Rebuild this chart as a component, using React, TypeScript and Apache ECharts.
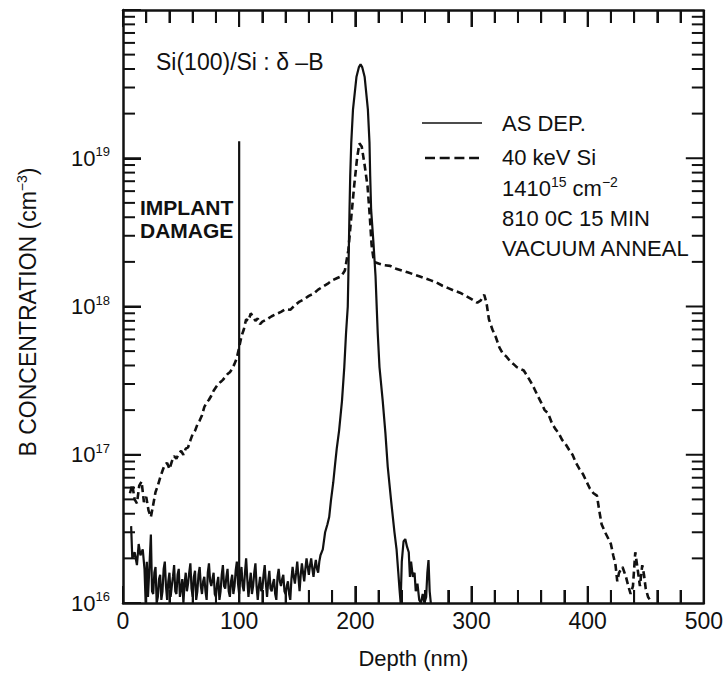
import React, { useEffect, useRef } from "react";
import * as echarts from "echarts";

// ---- data ----
const asDepProfile: [number, number][] = [
  [7, 3.3e16], [8, 2.0e16], [10, 2.2e16], [12, 1.8e16], [13.5, 2.5e16], [15, 2.1e16],
  [17, 2.3e16], [18.5, 1.7e16], [19.5, 1.0e16], [20.5, 1.9e16], [21.5, 1.1e16], [22.5, 1.6e16],
  [24, 2.9e16], [25, 1.2e16], [26, 1.15e16], [27, 1.6e16], [28, 1.75e16], [29, 1.0e16], [30, 1.1e16],
  [31, 1.45e16], [32, 1.55e16], [33, 1.05e16], [34, 1.2e16], [35, 1.7e16], [36, 1.9e16], [37, 1.3e16],
  [38, 1.05e16], [39, 1.4e16], [40, 1.6e16], [41, 1.1e16], [42, 1.3e16], [43, 1.5e16], [44, 1.8e16],
  [45, 1.2e16], [46, 1.15e16], [47, 1.55e16], [48, 1.7e16], [49, 1.1e16], [50, 1.25e16], [51, 1.45e16],
  [52, 1.0e16], [53, 1.35e16], [54, 1.6e16], [55, 1.2e16], [56, 1.35e16], [57, 1.6e16], [58, 1.85e16],
  [59, 1.25e16], [60, 1.1e16], [61, 1.5e16], [62, 1.65e16], [63, 1.05e16], [64, 1.2e16], [65, 1.55e16],
  [66, 1.75e16], [67, 1.3e16], [68, 1.15e16], [69, 1.4e16], [70, 1.5e16], [71, 1.2e16], [72, 1.05e16],
  [73, 1.6e16], [74, 1.85e16], [75, 1.4e16], [76, 1.3e16], [77, 1.45e16], [78, 1.6e16], [79, 1.15e16],
  [80, 1.1e16], [81, 1.35e16], [82, 1.5e16], [83, 1.05e16], [84, 1.2e16], [85, 1.55e16], [86, 1.8e16],
  [87, 1.3e16], [88, 1.25e16], [89, 1.5e16], [90, 1.7e16], [91, 1.2e16], [92, 1.1e16], [93, 1.4e16],
  [94, 1.55e16], [95, 1.15e16], [96, 1.3e16], [97, 1.65e16], [98, 1.9e16], [99, 1.35e16], [100, 1.15e16],
  [101, 1.5e16], [102, 1.75e16], [103, 1.3e16], [104, 1.2e16], [105, 1.6e16], [106, 2.0e16], [107, 1.45e16],
  [108, 1.1e16], [109, 1.35e16], [110, 1.6e16], [111, 1.15e16], [112, 1.3e16], [113, 1.6e16], [114, 1.85e16],
  [115, 1.3e16], [116, 1.05e16], [117, 1.3e16], [118, 1.5e16], [119, 1.2e16], [120, 1.25e16], [121, 1.55e16],
  [122, 1.8e16], [123, 1.35e16], [124, 1.1e16], [125, 1.4e16], [126, 1.65e16], [127, 1.25e16], [128, 1.2e16],
  [129, 1.35e16], [130, 1.45e16], [131, 1.15e16], [132, 1.05e16], [133, 1.5e16], [134, 1.7e16], [135, 1.4e16],
  [136, 1.3e16], [137, 1.45e16], [138, 1.55e16], [139, 1.2e16], [140, 1.15e16], [141, 1.3e16], [142, 1.4e16],
  [143, 1.15e16], [144, 1.05e16], [145, 1.45e16], [146, 1.75e16], [147, 1.5e16], [148, 1.35e16], [149, 1.6e16],
  [150, 1.9e16], [151, 1.5e16], [152, 1.2e16], [153, 1.55e16], [154, 1.85e16], [155, 1.6e16], [156, 1.4e16],
  [157, 1.7e16], [158, 2.0e16], [159, 1.75e16], [160, 1.55e16], [161, 1.8e16], [162, 2.0e16], [163, 1.7e16],
  [164, 1.5e16], [165, 1.75e16], [166, 1.95e16], [167, 1.7e16], [168, 1.6e16], [169, 1.9e16], [170, 2.1e16],
  [172, 2.3e16], [174, 3.0e16], [176, 3.4e16],
  [177.5, 3.8e16], [179, 4.9e16], [181, 6.5e16], [182.5, 8.5e16], [184, 1.1e17], [186, 1.45e17],
  [188.5, 2.3e17], [190.5, 3.9e17], [192, 6.6e17], [193.5, 1.0e18], [194, 1.6e18], [194.5, 2.7e18],
  [195, 4.5e18], [195.6, 7.6e18], [196.5, 1.27e19], [198, 2.14e19], [201, 3.55e19], [203, 4.1e19],
  [204.5, 4.3e19], [206, 4.1e19], [208, 3.55e19], [210.8, 2.14e19], [212.2, 1.27e19], [212.8, 7.6e18],
  [213.6, 4.5e18], [215.6, 2.7e18], [217.4, 1.6e18], [218.5, 9.5e17], [219.3, 6.6e17], [220.8, 3.9e17],
  [223.6, 2.3e17], [225.9, 1.4e17], [227.9, 8.3e16], [230.8, 4.9e16], [233.7, 3.0e16], [235.5, 2.3e16],
  [237, 1.6e16], [238, 1.25e16], [239, 1.0e16], [240, 1.9e16], [241.5, 2.6e16], [243, 2.7e16],
  [244.5, 2.4e16], [246, 2.2e16], [247, 1.5e16], [248, 1.9e16], [249.5, 1.5e16], [251, 1.6e16],
  [252, 1.2e16], [253.5, 1.35e16], [255, 1.05e16], [256.5, 1.0e16], [258, 1.15e16], [259.5, 1.0e16],
  [261, 1.1e16], [262, 1.6e16], [263, 1.95e16], [264, 1.2e16], [265, 1.0e16],
];

const annealProfile: [number, number][] = [
  [6, 5.5e16], [8, 6.3e16], [10, 5.0e16], [12, 4.7e16], [14, 6.2e16], [16, 6.6e16],
  [18, 4.8e16], [20, 5.2e16], [22, 4.2e16], [24, 3.8e16], [26, 4.6e16], [28, 5.6e16],
  [30, 6.2e16], [32, 7.0e16], [34, 7.8e16], [36, 8.6e16], [38, 8.8e16], [40, 8.0e16],
  [42, 9.0e16], [44, 9.8e16], [46, 9.4e16], [48, 1.02e17], [50, 1.06e17], [52, 1.0e17],
  [54, 1.1e17], [56, 1.12e17], [58, 1.25e17], [60, 1.38e17], [62, 1.45e17], [64, 1.6e17],
  [66, 1.7e17], [68, 1.85e17], [70, 2.1e17], [72, 2.25e17], [74, 2.35e17], [76, 2.5e17],
  [78, 2.7e17], [80, 2.85e17], [82, 3.0e17], [84, 3.1e17], [86, 3.2e17], [88, 3.35e17],
  [90, 3.5e17], [92, 3.6e17], [94, 3.8e17], [96, 4.1e17], [98, 4.5e17], [100, 5.3e17],
  [102, 6.3e17], [104, 7.0e17], [106, 8.2e17], [108, 8.0e17], [110, 9.0e17], [112, 8.5e17],
  [114, 8.0e17], [116, 8.3e17], [118, 7.6e17], [120, 7.9e17], [124, 8.2e17], [128, 8.6e17],
  [132, 8.9e17], [136, 9.2e17], [140, 9.6e17], [144, 9.5e17], [148, 1.02e18], [152, 1.08e18],
  [156, 1.12e18], [160, 1.18e18], [164, 1.22e18], [168, 1.3e18], [172, 1.36e18], [176, 1.42e18],
  [180, 1.5e18], [184, 1.55e18], [188, 1.6e18], [191, 1.75e18], [194, 2.4e18], [196.5, 4.0e18],
  [199, 6.5e18], [201.5, 1.0e19], [203.5, 1.26e19], [205.5, 1.2e19], [208, 9.0e18], [210.5, 6.5e18],
  [212.5, 4.0e18], [214, 2.6e18], [216, 2.0e18], [220, 1.95e18], [225, 1.9e18], [230, 1.88e18],
  [235, 1.8e18], [240, 1.75e18], [245, 1.7e18], [250, 1.65e18], [255, 1.6e18], [260, 1.55e18],
  [265, 1.5e18], [270, 1.45e18], [275, 1.38e18], [280, 1.33e18], [285, 1.28e18], [290, 1.24e18],
  [295, 1.18e18], [300, 1.12e18], [305, 1.06e18], [308, 1.1e18], [311, 1.2e18], [313, 1.05e18],
  [315, 8.2e17], [318, 7.0e17], [321, 6.2e17], [324, 5.3e17], [327, 4.8e17], [330, 4.6e17],
  [333, 4.3e17], [336, 4.1e17], [339, 3.9e17], [342, 3.8e17], [345, 3.7e17], [348, 3.4e17],
  [351, 3.1e17], [354, 2.8e17], [357, 2.5e17], [360, 2.25e17], [363, 2.0e17], [366, 1.9e17],
  [369, 1.65e17], [372, 1.5e17], [375, 1.4e17], [378, 1.26e17], [381, 1.18e17], [384, 1.08e17],
  [387, 1.0e17], [390, 8.8e16], [393, 8.0e16], [396, 7.4e16], [399, 6.6e16], [402, 5.9e16],
  [405, 5.5e16], [408, 5.3e16], [410, 4.2e16], [412, 3.4e16], [415, 3.0e16], [418, 2.7e16],
  [420, 2.5e16], [422, 2.1e16], [424, 1.8e16], [425.5, 1.4e16], [427, 1.6e16], [430, 1.75e16],
  [433, 1.5e16], [435, 1.3e16], [437, 1.15e16], [439, 1.3e16], [441, 2.2e16], [443, 1.7e16],
  [445, 1.3e16], [447, 1.8e16], [448.5, 1.55e16], [450, 1.25e16], [452, 1.1e16], [455, 1.0e16],
];

const implantMarker: [number, number][] = [[100, 1.0e16], [100, 1.3e19]];

const depthRange = [0, 500];
const depthInterval = 100;
const depthMajorTicks = [100, 200, 300, 400];
const depthMinorOffsets = [20, 40, 60, 80];
const concRange = [1e16, 1e20];
const labelledExponents = [16, 17, 18, 19];
const minorMantissas = [2, 3, 4, 5, 6, 7, 8, 9];

const seriesNames = ["AS DEP.", "40 keV Si"];
const noteLines = ["{b|1410}{sup|15}{b| cm}{sup|\u22122}", "810 0C 15 MIN", "VACUUM ANNEAL"];
const sampleTitle = "Si(100)/Si : \u03b4 \u2013B";
const damageLabel = ["IMPLANT", "DAMAGE"];
const yTitle = "{b|B CONCENTRATION (cm}{sup|\u22123}{b|)}";
const xTitle = "Depth (nm)";

const INK = "#111";
const FONT = "'Liberation Sans', Arial, Helvetica, sans-serif";
const TICK = { xMajor: 17, xMinor: 13, yMajor: 18, yMinor: 12 };

export default function App() {
  const ref = useRef<HTMLDivElement>(null);

  useEffect(() => {
    document.body.style.margin = "0";
    if (!ref.current) return;
    const chart = echarts.init(ref.current, undefined, { renderer: "svg" });

    const decadeData = labelledExponents.map((e) => [depthRange[0], Math.pow(10, e)]);
    const minorData = labelledExponents.flatMap((e) => minorMantissas.map((m) => [depthRange[0], m * Math.pow(10, e)]));
    const xMajorData = depthMajorTicks.map((d) => [d, concRange[0]]);
    const xMinorData = [depthRange[0], ...depthMajorTicks].flatMap((d) => depthMinorOffsets.map((o) => [d + o, concRange[0]]));
    const rightEdge: [number, number][] = [[depthRange[1], concRange[0]], [depthRange[1], concRange[1]]];

    // ticks drawn as thin filled rects, placed through the axes' scales
    const hTickSeries = (name: string, data: number[][], len: number) => ({
      name,
      type: "custom",
      silent: true,
      clip: false,
      data,
      z: 4,
      renderItem: (params: any, api: any) => {
        const v = api.value(1);
        const pL = api.coord([depthRange[0], v]);
        const pR = api.coord([depthRange[1], v]);
        return {
          type: "group",
          children: [
            { type: "rect", shape: { x: pL[0], y: pL[1] - 1, width: len, height: 2 }, style: { fill: INK } },
            { type: "rect", shape: { x: pR[0] - len, y: pR[1] - 1, width: len, height: 2 }, style: { fill: INK } },
          ],
        };
      },
    });
    const vTickSeries = (name: string, data: number[][], len: number) => ({
      name,
      type: "custom",
      silent: true,
      clip: false,
      data,
      z: 4,
      renderItem: (params: any, api: any) => {
        const d = api.value(0);
        const pB = api.coord([d, concRange[0]]);
        const pT = api.coord([d, concRange[1]]);
        return {
          type: "group",
          children: [
            { type: "rect", shape: { x: pB[0] - 1, y: pB[1] - len, width: 2, height: len }, style: { fill: INK } },
            { type: "rect", shape: { x: pT[0] - 1, y: pT[1], width: 2, height: len }, style: { fill: INK } },
          ],
        };
      },
    });

    const xAxisCommon = {
      type: "value",
      min: depthRange[0],
      max: depthRange[1],
      interval: depthInterval,
      splitLine: { show: false },
      axisLine: { show: true, lineStyle: { color: INK, width: 2.5 } },
      axisTick: { show: true, inside: true, length: TICK.xMajor, lineStyle: { color: INK, width: 2 } },
      minorTick: { show: true, splitNumber: 5, length: TICK.xMinor, lineStyle: { color: INK, width: 2 } },
    };

    const txt = (x: number, y: number, text: string, extra: any = {}) => ({
      type: "text",
      x,
      y,
      style: { text, fontSize: 22, fontFamily: FONT, fill: INK, align: "left", verticalAlign: "middle", ...extra },
    });
    const richSup = {
      b: { fontSize: 22, lineHeight: 26, fontFamily: FONT, fill: INK },
      sup: { fontSize: 14, lineHeight: 12, verticalAlign: "top", fontFamily: FONT, fill: INK },
    };

    const option: any = {
      animation: false,
      backgroundColor: "#fff",
      textStyle: { fontFamily: FONT, color: INK },
      grid: { left: 123, right: 21, top: 10, bottom: 72 },
      xAxis: [
        {
          ...xAxisCommon,
          position: "bottom",
          name: xTitle,
          nameLocation: "middle",
          nameGap: 44,
          nameTextStyle: { fontSize: 22, color: INK, fontFamily: FONT },
          axisLabel: { show: true, fontSize: 23, color: INK, margin: 6, fontFamily: FONT },
        },
        { ...xAxisCommon, position: "top", axisLabel: { show: false } },
      ],
      yAxis: [
        {
          type: "log",
          min: concRange[0],
          max: concRange[1],
          position: "left",
          splitLine: { show: false },
          axisLine: { show: true, lineStyle: { color: INK, width: 2.5 } },
          axisTick: { show: true, inside: true, length: TICK.yMajor, lineStyle: { color: INK, width: 2 } },
          axisLabel: { show: false },
        },
      ],
      series: [
        {
          name: seriesNames[0],
          type: "line",
          data: asDepProfile,
          symbol: "none",
          lineStyle: { color: INK, width: 2.2 },
          z: 3,
        },
        {
          name: seriesNames[1],
          type: "line",
          data: annealProfile,
          symbol: "none",
          lineStyle: { color: INK, width: 2.6, type: [7, 4] },
          z: 3,
        },
        {
          name: "implant damage",
          type: "line",
          data: implantMarker,
          symbol: "none",
          lineStyle: { color: INK, width: 2.2 },
          z: 2,
        },
        {
          name: "right frame",
          type: "line",
          data: rightEdge,
          symbol: "none",
          silent: true,
          lineStyle: { color: INK, width: 2.5 },
          z: 2,
        },
        hTickSeries("log minor ticks", minorData, TICK.yMinor),
        hTickSeries("decade ticks", decadeData.slice(1), TICK.yMajor),
        vTickSeries("depth major ticks", xMajorData, TICK.xMajor),
        vTickSeries("depth minor ticks", xMinorData, TICK.xMinor),
        {
          name: "decade labels",
          type: "custom",
          silent: true,
          clip: false,
          data: decadeData,
          z: 4,
          renderItem: (params: any, api: any) => {
            const v = api.value(1);
            const e = Math.round(Math.log10(v));
            const pL = api.coord([depthRange[0], v]);
            return {
              type: "text",
              x: pL[0] - 13,
              y: pL[1],
              style: {
                text: "{base|10}{sup|" + e + "}",
                align: "right",
                verticalAlign: "middle",
                fontFamily: FONT,
                fill: INK,
                rich: {
                  base: { fontSize: 22, lineHeight: 26, fontFamily: FONT, fill: INK },
                  sup: { fontSize: 13, lineHeight: 12, verticalAlign: "top", fontFamily: FONT, fill: INK },
                },
              },
            };
          },
        },
      ],
      graphic: [
        txt(156, 62, sampleTitle, { fontSize: 23 }),
        txt(140, 207, damageLabel[0], { fontSize: 21, fontWeight: "bold" }),
        txt(140, 230, damageLabel[1], { fontSize: 21, fontWeight: "bold" }),
        { type: "line", shape: { x1: 422, y1: 123, x2: 482, y2: 123 }, style: { stroke: INK, lineWidth: 1.6 } },
        txt(502, 123, seriesNames[0]),
        { type: "line", shape: { x1: 425, y1: 158, x2: 479, y2: 158 }, style: { stroke: INK, lineWidth: 2.6, lineDash: [10, 4.7] } },
        txt(502, 157, seriesNames[1]),
        txt(502, 188, noteLines[0], { rich: richSup }),
        txt(502, 218, noteLines[1]),
        txt(502, 248, noteLines[2]),
        {
          type: "text",
          x: 28,
          y: 312,
          rotation: Math.PI / 2,
          style: {
            text: yTitle,
            fontSize: 23,
            fontFamily: FONT,
            fill: INK,
            align: "center",
            verticalAlign: "middle",
            rich: {
              b: { fontSize: 23, lineHeight: 26, fontFamily: FONT, fill: INK },
              sup: { fontSize: 14, lineHeight: 12, verticalAlign: "top", fontFamily: FONT, fill: INK },
            },
          },
        },
      ],
    };

    chart.setOption(option);
    return () => chart.dispose();
  }, []);

  return <div ref={ref} style={{ width: 726, height: 675, background: "#fff" }} />;
}
